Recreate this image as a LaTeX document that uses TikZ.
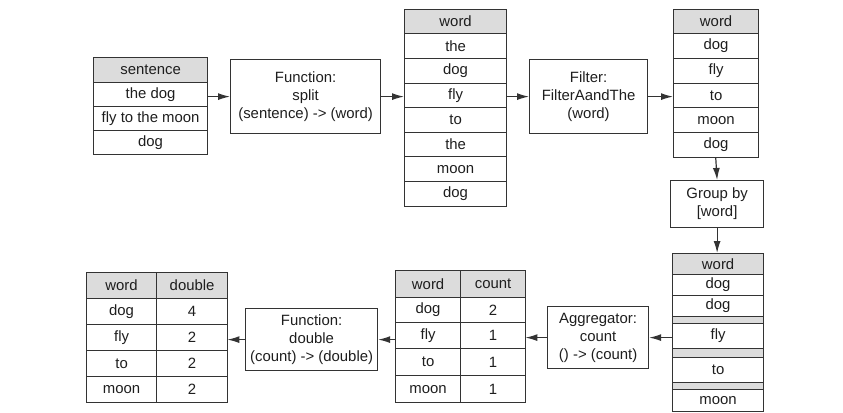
\documentclass[tikz,border=0pt]{standalone}
\usepackage{fontspec}
\setmainfont{Liberation Sans}
\usetikzlibrary{arrows.meta}
\definecolor{linec}{HTML}{333333}
\definecolor{headc}{HTML}{DCDCDC}
\definecolor{txtc}{HTML}{1E1E1E}
\newcommand{\mkcell}[7][cell]{%
  \node[#1, minimum width=#5bp, minimum height=#6bp] (#2) at (#3,#4) {#7};}
\begin{document}
\begin{tikzpicture}[x=1bp,y=-1bp,
  cell/.style={draw=linec, line width=1.2bp, inner sep=0pt, anchor=north west,
    text=txtc, font=\fontsize{14.9bp}{18bp}\selectfont},
  hcell/.style={cell, fill=headc},
  gapcell/.style={cell, fill=headc},
  tblbox/.style={inner sep=0pt, anchor=north west},
  procbox/.style={draw=linec, line width=1.2bp, inner sep=0pt, anchor=north west,
    align=center, text=txtc, font=\fontsize{14.9bp}{18bp}\selectfont},
  conn/.style={draw=linec, line width=1.2bp, -{Latex[length=12bp,width=7bp]}}]
\useasboundingbox (0,0) rectangle (843,412);

% sentence table
\mkcell[tblbox]{sent}{93}{57}{114}{97}{}
\mkcell[hcell]{s0}{93}{57}{114}{25}{sentence}
\mkcell{s1}{93}{82}{114}{24}{the dog}
\mkcell{s2}{93}{106}{114}{24}{fly to the moon}
\mkcell{s3}{93}{130}{114}{24}{dog}

% split
\node[procbox, minimum width=150bp, minimum height=74bp] (split) at (230,59)
  {Function:\\split\\(sentence) -> (word)};

% word table 1
\mkcell[tblbox]{ta}{404}{9}{102}{197}{}
\mkcell[hcell]{a0}{404}{9}{102}{24}{word}
\mkcell{a1}{404}{33}{102}{25}{the}
\mkcell{a2}{404}{58}{102}{25}{dog}
\mkcell{a3}{404}{83}{102}{24}{fly}
\mkcell{a4}{404}{107}{102}{25}{to}
\mkcell{a5}{404}{132}{102}{24}{the}
\mkcell{a6}{404}{156}{102}{25}{moon}
\mkcell{a7}{404}{181}{102}{25}{dog}

% filter
\node[procbox, minimum width=118bp, minimum height=74bp] (filt) at (529,59)
  {Filter:\\FilterAandThe\\(word)};

% word table 2
\mkcell[tblbox]{tb}{673}{9}{85}{148}{}
\mkcell[hcell]{b0}{673}{9}{85}{24}{word}
\mkcell{b1}{673}{33}{85}{25}{dog}
\mkcell{b2}{673}{58}{85}{25}{fly}
\mkcell{b3}{673}{83}{85}{24}{to}
\mkcell{b4}{673}{107}{85}{25}{moon}
\mkcell{b5}{673}{132}{85}{25}{dog}

% group by
\node[procbox, minimum width=93bp, minimum height=47bp] (grp) at (670,180)
  {Group by\\{[word]}};

% grouped table
\mkcell[tblbox]{tc}{672}{253}{91}{158}{}
\mkcell[hcell]{c0}{672}{253}{91}{21}{word}
\mkcell{c1}{672}{274}{91}{21}{dog}
\mkcell{c2}{672}{295}{91}{21}{dog}
\mkcell[gapcell]{cg1}{672}{316}{91}{7}{}
\mkcell{c3}{672}{323}{91}{25}{fly}
\mkcell[gapcell]{cg2}{672}{348}{91}{9}{}
\mkcell{c4}{672}{357}{91}{25}{to}
\mkcell[gapcell]{cg3}{672}{382}{91}{7}{}
\mkcell{c5}{672}{389}{91}{22}{moon}

% aggregator
\node[procbox, minimum width=101bp, minimum height=62bp] (agg) at (547,306)
  {Aggregator:\\count\\() -> (count)};

% count table
\mkcell[tblbox]{td}{395}{270}{130}{132}{}
\mkcell[hcell]{d0a}{395}{270}{65}{27}{word}
\mkcell[hcell]{d0b}{460}{270}{65}{27}{count}
\mkcell{d1a}{395}{297}{65}{25}{dog}
\mkcell{d1b}{460}{297}{65}{25}{2}
\mkcell{d2a}{395}{322}{65}{26}{fly}
\mkcell{d2b}{460}{322}{65}{26}{1}
\mkcell{d3a}{395}{348}{65}{27}{to}
\mkcell{d3b}{460}{348}{65}{27}{1}
\mkcell{d4a}{395}{375}{65}{27}{moon}
\mkcell{d4b}{460}{375}{65}{27}{1}

% function double
\node[procbox, minimum width=132bp, minimum height=62bp] (fdbl) at (245,308)
  {Function:\\double\\(count) -> (double)};

% double table
\mkcell[tblbox]{te}{86}{272}{141}{130}{}
\mkcell[hcell]{e0a}{86}{272}{70}{26}{word}
\mkcell[hcell]{e0b}{156}{272}{71}{26}{double}
\mkcell{e1a}{86}{298}{70}{26}{dog}
\mkcell{e1b}{156}{298}{71}{26}{4}
\mkcell{e2a}{86}{324}{70}{26}{fly}
\mkcell{e2b}{156}{324}{71}{26}{2}
\mkcell{e3a}{86}{350}{70}{26}{to}
\mkcell{e3b}{156}{350}{71}{26}{2}
\mkcell{e4a}{86}{376}{70}{26}{moon}
\mkcell{e4b}{156}{376}{71}{26}{2}

% connectors
\draw[conn] (split.west -| sent.east) -- (split.west);
\draw[conn] (split.east) -- (split.east -| ta.west);
\draw[conn] (filt.west -| ta.east) -- (filt.west);
\draw[conn] (filt.east) -- (filt.east -| tb.west);
\draw[conn] (tb.south) -- (grp.north);
\draw[conn] (grp.south) -- (grp.south |- tc.north);
\draw[conn] (agg.east -| tc.west) -- (agg.east);
\draw[conn] (agg.west) -- (agg.west -| td.east);
\draw[conn] (fdbl.east -| td.west) -- (fdbl.east);
\draw[conn] (fdbl.west) -- (fdbl.west -| te.east);
\end{tikzpicture}
\end{document}
